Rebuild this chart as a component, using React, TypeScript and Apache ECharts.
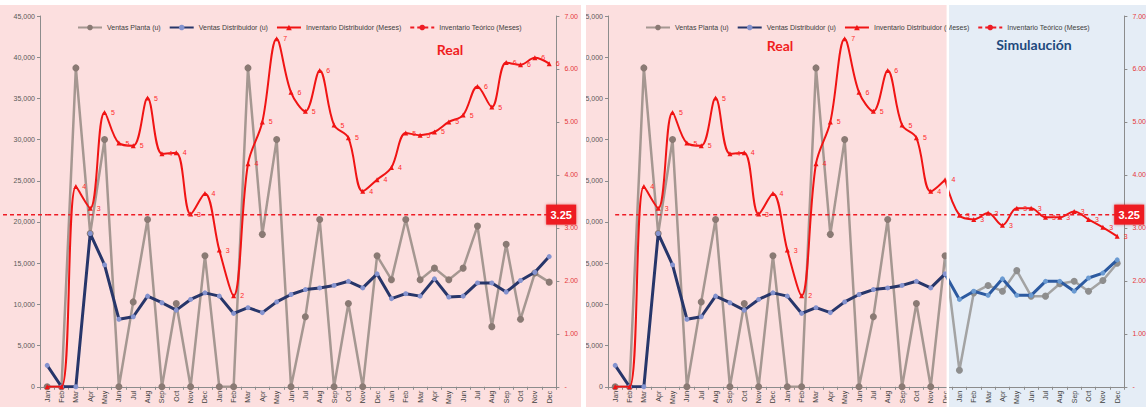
import React, { useEffect, useRef } from "react";
import * as echarts from "echarts";

// Month labels for the 36-month horizon (three years).
const MONTHS = [
  "Jan", "Feb", "Mar", "Apr", "May", "Jun", "Jul", "Aug", "Sep", "Oct", "Nov", "Dec",
  "Jan", "Feb", "Mar", "Apr", "May", "Jun", "Jul", "Aug", "Sep", "Oct", "Nov", "Dec",
  "Jan", "Feb", "Mar", "Apr", "May", "Jun", "Jul", "Aug", "Sep", "Oct", "Nov", "Dec",
];

// Actual figures (units / months of stock).
const VENTAS_PLANTA = [
  0, 0, 38700, 18600, 30000, 0, 10300, 20300, 0, 10100, 0, 15900,
  0, 0, 38700, 18500, 30000, 0, 8500, 20300, 0, 10100, 0, 15900,
  13000, 20300, 13000, 14400, 13000, 14400, 19500, 7300, 17300, 8200, 13800, 12700,
];
const VENTAS_DISTRIBUIDOR = [
  2600, 0, 0, 18600, 14800, 8200, 8500, 11000, 10200, 9300, 10600, 11400,
  11000, 8900, 9600, 9000, 10300, 11200, 11800, 12000, 12300, 12800, 12000, 13700,
  10700, 11300, 11000, 13100, 10900, 11000, 12600, 12600, 11500, 12900, 13900, 15800,
];
const INVENTARIO_DISTRIBUIDOR = [
  0, 0, 3.78, 3.37, 5.18, 4.6, 4.55, 5.45, 4.4, 4.42, 3.26, 3.65,
  2.58, 1.72, 4.21, 5.0, 6.57, 5.56, 5.2, 5.97, 4.94, 4.7, 3.69, 3.91,
  4.14, 4.79, 4.75, 4.81, 5.0, 5.13, 5.67, 5.28, 6.12, 6.08, 6.21, 6.1,
];
const INVENTARIO_TEORICO = 3.25;

// Simulated last year (months 25-36).
const REAL_MONTHS = 24;
const VENTAS_PLANTA_SIM = [2000, 11400, 12300, 11600, 14100, 11000, 11000, 12500, 12800, 11600, 12900, 15000];
const VENTAS_DISTRIBUIDOR_SIM = [10600, 11600, 11100, 13100, 11100, 11100, 12800, 12800, 11600, 13200, 13800, 15400];
const INVENTARIO_DISTRIBUIDOR_SIM = [3.24, 3.16, 3.28, 3.05, 3.37, 3.37, 3.2, 3.2, 3.31, 3.16, 3.01, 2.84];

const Y_LEFT_TICKS = { min: 0, max: 45000, interval: 5000 };
const Y_RIGHT_TICKS = { min: 0, max: 7, interval: 1 };

const FONT = "'Liberation Sans', Arial, sans-serif";
const PINK = "#fcdfdf";
const BLUE = "#e5edf6";
const RED = "#f01414";
const AXIS_GREY = "#8c8c8c";

const CHART_W = 581;
const CHART_H = 402;

const NAMES = [
  "Ventas Planta (u)",
  "Ventas Distribuidor (u)",
  "Inventario Distribuidor (Meses)",
  "Inventario Teórico (Meses)",
];

const roundLabel = (p: any) => {
  const v = typeof p.value === "object" && p.value !== null ? p.value.value : p.value;
  return v > 0 ? String(Math.round(v)) : "";
};

function baseOption() {
  return {
    animation: false,
    backgroundColor: PINK,
    textStyle: { fontFamily: FONT },
    grid: { left: 40, right: CHART_W - 557, top: 11, bottom: 17 },
    legend: {
      data: NAMES,
      left: 72,
      top: 14,
      itemWidth: 24,
      itemHeight: 7,
      itemGap: 8,
      textStyle: { fontSize: 7, color: "#404040", fontFamily: FONT },
    },
    xAxis: {
      type: "category",
      data: MONTHS,
      boundaryGap: true,
      axisLine: { lineStyle: { color: AXIS_GREY } },
      axisTick: { show: true, length: 3, lineStyle: { color: AXIS_GREY } },
      axisLabel: { rotate: 90, fontSize: 7, color: "#404040", margin: 4, interval: 0, fontFamily: FONT },
    },
    yAxis: [
      {
        type: "value",
        ...Y_LEFT_TICKS,
        axisLine: { show: true, lineStyle: { color: AXIS_GREY } },
        axisTick: { show: true, length: 3, lineStyle: { color: AXIS_GREY } },
        splitLine: { show: false },
        axisLabel: {
          fontSize: 7,
          color: "#595959",
          margin: 5,
          fontFamily: FONT,
          formatter: (v: number) => v.toLocaleString("en-US"),
        },
      },
      {
        type: "value",
        position: "right",
        ...Y_RIGHT_TICKS,
        axisLine: { show: true, lineStyle: { color: AXIS_GREY } },
        axisTick: { show: true, length: 3, lineStyle: { color: AXIS_GREY } },
        splitLine: { show: false },
        axisLabel: {
          fontSize: 7,
          color: "#e5383b",
          margin: 8,
          fontFamily: FONT,
          formatter: (v: number) => (v === 0 ? "-" : v.toFixed(2)),
        },
      },
    ],
  };
}

const plantaStyle = (line: string, dot: string) => ({
  type: "line",
  yAxisIndex: 0,
  symbol: "circle",
  symbolSize: 7,
  lineStyle: { color: line, width: 2.5 },
  itemStyle: { color: dot },
  z: 2,
});

const distribStyle = (line: string, dot: string) => ({
  type: "line",
  yAxisIndex: 0,
  symbol: "circle",
  symbolSize: 5,
  lineStyle: { color: line, width: 3 },
  itemStyle: { color: dot },
  z: 3,
});

const inventarioStyle = () => ({
  type: "line",
  yAxisIndex: 1,
  smooth: 0.35,
  symbol: "triangle",
  symbolSize: 5,
  lineStyle: { color: RED, width: 2 },
  itemStyle: { color: RED },
  label: {
    show: true,
    position: "right",
    distance: 4,
    fontSize: 7,
    color: "#ff2a2a",
    fontFamily: FONT,
    formatter: roundLabel,
  },
  z: 4,
});

const teoricoSeries = () => ({
  name: NAMES[3],
  type: "line",
  yAxisIndex: 1,
  symbol: "none",
  data: MONTHS.map(() => INVENTARIO_TEORICO),
  lineStyle: { color: "#ee1c25", width: 1.5, type: [4, 3] },
  itemStyle: { color: "#ee1c25" },
  z: 5,
  markPoint: {
    symbol: "rect",
    symbolSize: [30, 20],
    symbolOffset: [12, 0],
    itemStyle: { color: "#ee1d23", shadowBlur: 3, shadowColor: "rgba(200,0,0,0.5)" },
    label: {
      show: true,
      position: "inside",
      color: "#ffffff",
      fontWeight: "bold",
      fontSize: 11,
      fontFamily: FONT,
      formatter: (p: any) => Number(p.value).toFixed(2),
    },
    data: [{ coord: [MONTHS.length - 1, INVENTARIO_TEORICO], value: INVENTARIO_TEORICO }],
  },
});

const titleText = (text: string, x: number, y: number, color: string) => ({
  type: "text",
  x,
  y,
  z: 20,
  silent: true,
  style: {
    text,
    fill: color,
    font: `bold 14px Lato, ${FONT}`,
    align: "center",
    verticalAlign: "middle",
  },
});

// Left panel: all 36 months of actual data.
function realOption() {
  return {
    ...baseOption(),
    series: [
      { name: NAMES[0], ...plantaStyle("#a59791", "#8a7a74"), data: VENTAS_PLANTA },
      { name: NAMES[1], ...distribStyle("#27366a", "#8593cf"), data: VENTAS_DISTRIBUIDOR },
      { name: NAMES[2], ...inventarioStyle(), data: INVENTARIO_DISTRIBUIDOR },
      teoricoSeries(),
    ],
  };
}

function realGraphics(chart: any) {
  const y = chart.convertToPixel({ yAxisIndex: 1 }, INVENTARIO_TEORICO);
  const x0 = chart.convertToPixel({ xAxisIndex: 0 }, 0);
  return [
    titleText("Real", 450, 44, "#f01e1e"),
    {
      type: "line",
      z: 5,
      silent: true,
      shape: { x1: 3, y1: y, x2: x0, y2: y },
      style: { stroke: "#ee1c25", lineWidth: 1.5, lineDash: [4, 3] },
    },
  ];
}

// Right panel: two actual years followed by a simulated year.
const realPart = (arr: number[]) => arr.map((v, i) => (i < REAL_MONTHS ? v : null));
const simPart = (real: number[], sim: number[]) =>
  MONTHS.map((_, i) => {
    if (i < REAL_MONTHS - 1) return null;
    if (i === REAL_MONTHS - 1) return { value: real[i], symbolSize: 0, label: { show: false } };
    return sim[i - REAL_MONTHS];
  });

function simOption() {
  return {
    ...baseOption(),
    series: [
      { name: NAMES[0], ...plantaStyle("#a59791", "#8a7a74"), data: realPart(VENTAS_PLANTA) },
      { name: NAMES[1], ...distribStyle("#27366a", "#8593cf"), data: realPart(VENTAS_DISTRIBUIDOR) },
      { name: NAMES[2], ...inventarioStyle(), data: realPart(INVENTARIO_DISTRIBUIDOR) },
      { name: NAMES[0], ...plantaStyle("#a3a3a3", "#8e8e8e"), data: simPart(VENTAS_PLANTA, VENTAS_PLANTA_SIM) },
      { name: NAMES[1], ...distribStyle("#2c5aa0", "#6b9bd2"), data: simPart(VENTAS_DISTRIBUIDOR, VENTAS_DISTRIBUIDOR_SIM) },
      { name: NAMES[2], ...inventarioStyle(), data: simPart(INVENTARIO_DISTRIBUIDOR, INVENTARIO_DISTRIBUIDOR_SIM) },
      teoricoSeries(),
    ],
  };
}

function simGraphics(chart: any) {
  const xEdge = chart.convertToPixel({ xAxisIndex: 0 }, REAL_MONTHS - 1);
  const sepX = xEdge + 1.5;
  return [
    {
      type: "rect",
      z: -1,
      silent: true,
      shape: { x: sepX + 2.5, y: 0, width: CHART_W - sepX, height: CHART_H },
      style: { fill: BLUE },
    },
    {
      type: "rect",
      z: 30,
      silent: true,
      shape: { x: sepX, y: 0, width: 2.5, height: CHART_H },
      style: { fill: "#ffffff" },
    },
    titleText("Real", 212, 40, "#f01e1e"),
    titleText("Simulaución", 466, 39, "#1f497d"),
  ];
}

function Panel(props: { option: () => any; graphics: (c: any) => any[]; style: React.CSSProperties }) {
  const ref = useRef<HTMLDivElement>(null);
  useEffect(() => {
    const chart = echarts.init(ref.current!, null, { renderer: "svg" });
    chart.setOption(props.option());
    chart.setOption({ graphic: props.graphics(chart) });
    return () => chart.dispose();
  }, []);
  return <div ref={ref} style={props.style} />;
}

export default function App() {
  return (
    <div style={{ position: "fixed", left: 0, top: 0, width: 1146, height: 407, background: "#ffffff", overflow: "hidden" }}>
      <Panel
        option={realOption}
        graphics={realGraphics}
        style={{ position: "absolute", left: 0, top: 5, width: CHART_W, height: CHART_H }}
      />
      <div style={{ position: "absolute", left: 586, top: 5, width: 560, height: CHART_H, overflow: "hidden" }}>
        <Panel
          option={simOption}
          graphics={simGraphics}
          style={{ position: "absolute", left: -18, top: 0, width: CHART_W, height: CHART_H }}
        />
      </div>
    </div>
  );
}
